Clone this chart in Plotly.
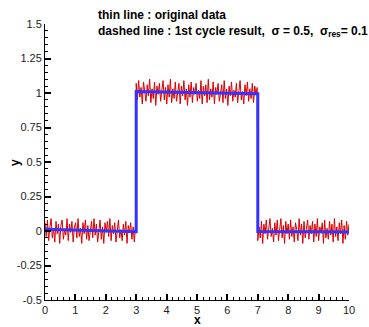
import numpy as np
import plotly.graph_objects as go

# original noisy data, three segments
seg1_y = [0.06, -0.04, 0.08, -0.07, 0.03, 0.09, -0.05, 0.02, -0.08, 0.07, -0.02, 0.05, -0.09, 0.04, 0.08,
          -0.06, 0.01, -0.03, 0.09, -0.07, 0.05, -0.01, 0.07, -0.08, 0.03, 0.06, -0.05, 0.09, -0.04, 0.02,
          -0.09, 0.06, -0.02, 0.08, -0.06, 0.04, -0.07, 0.01, 0.07, -0.05, 0.09, -0.03, 0.05, -0.08, 0.02,
          0.08, -0.06, 0.03, -0.09, 0.06, -0.01, 0.07, -0.04, 0.09, -0.07, 0.04, -0.02, 0.06, -0.08, 0.03,
          0.08, -0.05, 0.01, -0.07, 0.05, -0.03, 0.07, -0.09, 0.04, -0.01, 0.06, -0.06, 0.03, -0.08, 0.05]
seg2_y = [1.07, 0.95, 1.09, 0.97, 1.04, 0.92, 1.08, 1.01, 0.94, 1.06, 0.98, 1.10, 0.93, 1.03, 0.96,
          1.08, 0.91, 1.05, 0.99, 1.07, 0.94, 1.02, 1.09, 0.95, 1.04, 0.92, 1.06, 0.97, 1.10, 0.93,
          1.03, 0.96, 1.08, 0.94, 1.01, 1.07, 0.92, 1.05, 0.98, 1.09, 0.95, 1.03, 0.91, 1.06, 0.97,
          1.08, 0.93, 1.04, 0.99, 1.07, 0.94, 1.02, 0.96, 1.09, 0.92, 1.05, 0.98, 1.06, 0.93, 1.10,
          0.95, 1.03, 0.97, 1.08, 0.92, 1.04, 0.99, 1.07, 0.94, 1.01, 1.06, 0.93, 1.09, 0.96, 1.03,
          0.91, 1.05, 0.98, 1.08, 0.94, 1.02, 0.97, 1.07, 0.93, 1.04, 1.09, 0.95, 1.01, 0.92, 1.06,
          0.98, 1.08, 0.94, 1.03, 0.96, 1.07, 0.93, 1.05, 0.99, 1.04]
seg3_y = [-0.07, 0.03, -0.05, 0.07, -0.09, 0.05, -0.02, 0.08, -0.06, 0.04, 0.09, -0.04, 0.02, -0.08, 0.06,
          -0.03, 0.08, -0.07, 0.01, 0.09, -0.05, 0.04, -0.09, 0.07, -0.02, 0.05, -0.06, 0.08, -0.04, 0.03,
          -0.08, 0.06, 0.01, -0.07, 0.09, -0.03, 0.05, -0.09, 0.07, -0.05, 0.02, 0.08, -0.06, 0.04, -0.02,
          0.07, -0.08, 0.05, -0.04, 0.09, -0.07, 0.03, -0.01, 0.06, -0.09, 0.08, -0.05, 0.02, -0.06, 0.07,
          -0.03, 0.05, -0.08, 0.09, -0.04, 0.03, -0.07, 0.06, -0.02, 0.08, -0.09, 0.04, -0.06, 0.07, -0.03, 0.05]
seg_ranges = [(0.0, 2.98), (3.0, 6.98), (7.0, 10.0)]

# 1st cycle result (fitted step)
fit_x = [0, 3, 3, 7, 7, 10]
fit_y = [0.012, -0.005, 1.01, 0.995, -0.004, -0.008]

x_ticks = [0, 1, 2, 3, 4, 5, 6, 7, 8, 9, 10]
y_ticks = [-0.5, -0.25, 0, 0.25, 0.5, 0.75, 1, 1.25, 1.5]
y_ticklabels = ["-0.5", "-0.25", "0", "0.25", "0.5", "0.75", "1", "1.25", "1.5"]

orig_x, orig_y = [], []
for (a, b), ys in zip(seg_ranges, [seg1_y, seg2_y, seg3_y]):
    orig_x += list(np.linspace(a, b, len(ys)))
    orig_y += ys

FONT = "Liberation Sans, Arial, Helvetica, sans-serif"

fig = go.Figure()
fig.add_trace(go.Scatter(x=orig_x, y=orig_y, mode="lines",
                         line=dict(color="#dd0000", width=1), showlegend=False))
fig.add_trace(go.Scatter(x=fit_x, y=fit_y, mode="lines",
                         line=dict(color="#3333ff", width=3), showlegend=False))

axis_common = dict(showline=True, linecolor="black", linewidth=1, ticks="inside",
                   ticklen=6, tickwidth=1.5, tickcolor="black", showgrid=False,
                   zeroline=False, mirror=False, automargin=False,
                   tickfont=dict(family=FONT, size=11, color="#222"))

fig.update_xaxes(range=[0, 10], tickvals=x_ticks, ticktext=[str(v) for v in x_ticks],
                 minor=dict(ticks="inside", ticklen=3, dtick=0.2, tickcolor="black", tickwidth=1),
                 **axis_common)
fig.update_yaxes(range=[-0.5, 1.5], tickvals=y_ticks, ticktext=y_ticklabels,
                 minor=dict(ticks="inside", ticklen=3, dtick=0.05, tickcolor="black", tickwidth=1),
                 **axis_common)

fig.add_annotation(xref="paper", yref="paper", x=0.5, y=-0.074, xanchor="center", yanchor="middle",
                   showarrow=False, text="<b>x</b>", font=dict(family=FONT, size=12, color="black"))
fig.add_annotation(xref="paper", yref="paper", x=-0.099, y=0.5, xanchor="center", yanchor="middle",
                   showarrow=False, textangle=-90, text="<b>y</b>",
                   font=dict(family=FONT, size=12, color="black"))

fig.add_annotation(xref="paper", yref="paper", x=0.168, y=1.065, xanchor="left", yanchor="top",
                   showarrow=False, align="left",
                   text="<b>thin line : original data<br>dashed line : 1st cycle result,  σ = 0.5,  σ<sub>res</sub>= 0.1</b>",
                   font=dict(family=FONT, size=12, color="black"))

fig.update_layout(width=369, height=327, margin=dict(l=45, r=20, t=24, b=27),
                  plot_bgcolor="white", paper_bgcolor="white")
fig.write_html("out.html", config={"displayModeBar": False},
               post_script="document.body.style.margin='0';document.body.style.overflow='hidden';")
